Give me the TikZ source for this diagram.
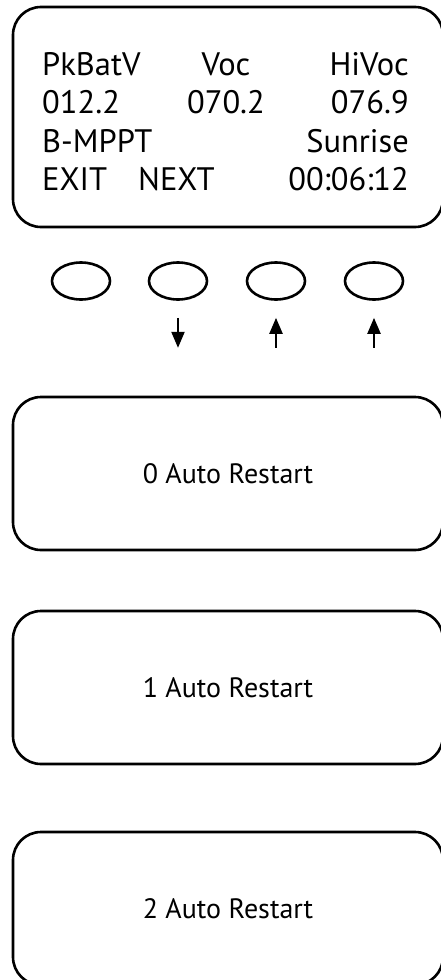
\documentclass[tikz,border=0pt]{standalone}
\usepackage{fontspec}
\setmainfont{PT Sans}
\usetikzlibrary{shapes.geometric, arrows.meta, positioning}

\begin{document}
\begin{tikzpicture}[x=1pt, y=-1pt,
  panel/.style={draw, line width=2.6pt, rounded corners=28pt, minimum width=430pt, inner sep=0pt},
  lcd/.style={font=\fontsize{32.5}{38}\selectfont, inner sep=0pt},
  key/.style={draw, ellipse, line width=2.6pt, minimum width=58pt, minimum height=37pt, inner sep=0pt},
  keyarrow/.style={line width=2.2pt, -{Triangle[length=16pt, width=13pt]}},
  msg/.style={font=\fontsize{28}{34}\selectfont}]
\useasboundingbox (0,0) rectangle (440,980);

% display
\node[panel, minimum height=220pt] (display) at (228,117) {};
\node[lcd, anchor=base west] (pkbatv) at (42,75) {PkBatV};
\node[lcd, anchor=base] (voc) at (226,75) {Voc};
\node[lcd, anchor=base east] (hivoc) at (409,75) {HiVoc};
\node[lcd, anchor=base west] (pkval) at (42,113) {012.2};
\node[lcd, anchor=base] (vocval) at (226,113) {070.2};
\node[lcd, anchor=base east] (hival) at (409,113) {076.9};
\node[lcd, anchor=base west] (mode) at (42,152) {B-MPPT};
\node[lcd, anchor=base east] (sunrise) at (409,152) {Sunrise};
\node[lcd, anchor=base west] (exit) at (42,190) {EXIT};
\node[lcd, anchor=base west] (next) at (138,190) {NEXT};
\node[lcd, anchor=base east] (clock) at (409,190) {00:06:12};

% keys
\foreach \i/\x in {1/81, 2/178, 3/276, 4/374}
  \node[key] (key\i) at (\x,281) {};
\foreach \i in {2,3,4} {
  \coordinate[below=17pt of key\i.south] (top\i);
  \coordinate[below=47pt of key\i.south] (bot\i);
}
\draw[keyarrow] (top2) -- (bot2);
\draw[keyarrow] (bot3) -- (top3);
\draw[keyarrow] (bot4) -- (top4);

% restart screens
\node[panel, minimum height=153pt, msg] (restart0) at (228,473.5) {0 Auto Restart};
\node[panel, minimum height=153pt, msg] (restart1) at (228,687.5) {1 Auto Restart};
\node[panel, minimum height=153pt, msg] (restart2) at (228,908.5) {2 Auto Restart};
\end{tikzpicture}
\end{document}
